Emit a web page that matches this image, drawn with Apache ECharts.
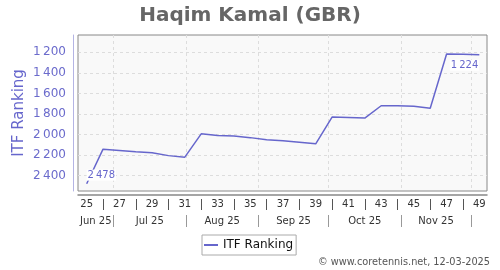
<!DOCTYPE html>
<html><head><meta charset="utf-8">
<script src="https://cdn.jsdelivr.net/npm/echarts@6/dist/echarts.min.js"></script>
<style>html,body{margin:0;padding:0;background:#fff}#c{width:500px;height:270px}</style>
</head><body><div id="c"></div>
<script>
// ---- data ----
const weeks = [25,26,27,28,29,30,31,32,33,34,35,36,37,38,39,40,41,42,43,44,45,46,47,48,49];
const ranks = [2478,2142,2155,2168,2178,2205,2220,1993,2010,2015,2030,2050,2060,2075,2090,1830,1835,1840,1720,1720,1725,1745,1217,1220,1224];
const weekLabels = [25,27,29,31,33,35,37,39,41,43,45,47,49];
const weekSeparators = [26,28,30,32,34,36,38,40,42,44,46,48];
const rankTicks = [1200,1400,1600,1800,2000,2200,2400];
const months = ['Jun 25','Jul 25','Aug 25','Sep 25','Oct 25','Nov 25'];
const monthStartDates = ['2025-07-01','2025-08-01','2025-09-01','2025-10-01','2025-11-01','2025-12-01'];
const firstPointDate = '2025-06-19T12:00:00Z';
const seriesName = 'ITF Ranking';

// ---- build ----
const FONT = '"DejaVu Sans", sans-serif';
const xMin = 24.47, xMax = 49.47;
const anchor = Date.parse(firstPointDate);
const monthStarts = monthStartDates.map(d => weeks[0] + (Date.parse(d + 'T00:00:00Z') - anchor) / (7 * 864e5));
const monthMids = months.map((m, i) => ((i === 0 ? xMin : monthStarts[i - 1]) + monthStarts[i]) / 2);
const fmt = v => String(Math.round(v)).replace(/\B(?=(\d{3})+(?!\d))/g, '\u2009');

const data = weeks.map((w, i) => {
  const item = { value: [w, ranks[i]] };
  if (i === 0) item.label = { show: true, position: [0, -3], align: 'left', verticalAlign: 'bottom' };
  if (i === weeks.length - 1) item.label = { show: true, position: [0, 5], align: 'right', verticalAlign: 'top' };
  return item;
});

const chart = echarts.init(document.getElementById('c'), null, { renderer: 'canvas' });
chart.setOption({
  animation: false,
  textStyle: { fontFamily: FONT },
  title: {
    text: 'Haqim Kamal (GBR)', left: 'center', top: 1,
    textStyle: { fontSize: 20, fontWeight: 'bold', color: '#666666', fontFamily: FONT }
  },
  grid: {
    left: 78, top: 35, width: 409, height: 156, show: true,
    backgroundColor: '#f9f9f9', borderColor: '#888888', borderWidth: 1,
    containLabel: false, outerBoundsMode: 'none'
  },
  legend: {
    left: 202, top: 235, data: [seriesName], icon: 'rect', itemWidth: 14, itemHeight: 2,
    borderColor: '#aaaaaa', borderWidth: 1, padding: [4, 3, 4, 2], backgroundColor: '#ffffff',
    textStyle: { fontSize: 12, color: '#111111', fontFamily: FONT }
  },
  xAxis: [
    {
      type: 'value', min: xMin, max: xMax, position: 'bottom', offset: 4,
      axisLine: { show: true, onZero: false, lineStyle: { color: '#888888', width: 1.5 } },
      axisTick: { show: false },
      axisLabel: { customValues: weekLabels, color: '#333333', fontSize: 10, margin: 4, fontFamily: FONT },
      splitLine: { show: false }
    },
    {
      type: 'value', min: xMin, max: xMax, position: 'bottom', offset: 8,
      axisLine: { show: false },
      axisTick: { show: true, customValues: weekSeparators, length: 11, lineStyle: { color: '#555555', width: 1 } },
      axisLabel: { show: false },
      splitLine: { show: false }
    },
    {
      type: 'value', min: xMin, max: xMax, position: 'bottom', offset: 24,
      axisLine: { show: false },
      axisTick: { show: true, customValues: monthStarts, length: 12, lineStyle: { color: '#999999', width: 1 } },
      axisLabel: {
        customValues: monthMids, color: '#333333', fontSize: 10, margin: 1, fontFamily: FONT,
        formatter: v => {
          let best = 0;
          monthMids.forEach((m, i) => { if (Math.abs(m - v) < Math.abs(monthMids[best] - v)) best = i; });
          return months[best];
        }
      },
      splitLine: { show: true, lineStyle: { color: '#dddddd', width: 1, type: [3, 3] } }
    }
  ],
  yAxis: {
    type: 'value', inverse: true, min: 1032, max: 2549, position: 'left', offset: 5,
    name: 'ITF Ranking', nameLocation: 'middle', nameGap: 46, nameMoveOverlap: false,
    nameTextStyle: { color: '#6666cc', fontSize: 15, fontFamily: FONT },
    axisLine: { show: true, lineStyle: { color: '#b4b4e4', width: 1 } },
    axisTick: { show: false, customValues: rankTicks },
    axisLabel: { customValues: rankTicks, formatter: fmt, color: '#6b6bcc', fontSize: 12, margin: 7, fontFamily: FONT },
    splitLine: { show: true, lineStyle: { color: '#dddddd', width: 1, type: [3, 3] } }
  },
  graphic: [{
    type: 'text', right: 10, top: 257,
    style: { text: '\u00a9 www.coretennis.net, 12-03-2025', fill: '#555555', font: '9.75px "DejaVu Sans"' }
  }],
  series: [{
    name: seriesName, type: 'line', xAxisIndex: 0, yAxisIndex: 0,
    data: data, showSymbol: true, symbol: 'circle', symbolSize: 0.1,
    lineStyle: { color: '#6666cc', width: 1.5 }, itemStyle: { color: '#6666cc' },
    label: {
      show: false, formatter: p => fmt(p.value[1]), fontSize: 10, color: '#6666cc',
      backgroundColor: '#ffffff', padding: [1, 1, 0, 1], fontFamily: FONT
    },
    emphasis: { disabled: true }
  }]
});
</script>
</body></html>
